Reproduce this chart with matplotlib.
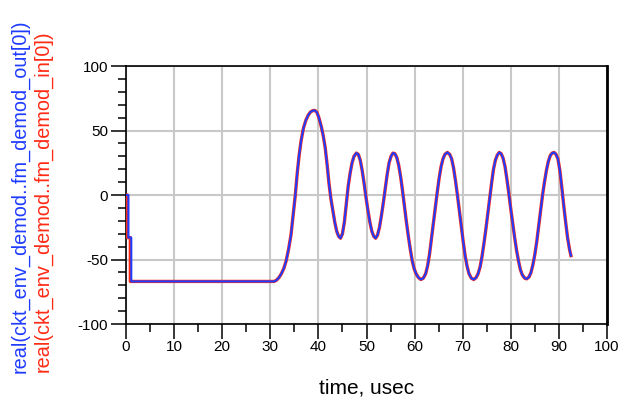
import numpy as np
import matplotlib
matplotlib.use('Agg')
import matplotlib.pyplot as plt
from matplotlib.ticker import MultipleLocator

plt.rcParams['font.family'] = ['Liberation Sans', 'DejaVu Sans']
plt.rcParams['axes.unicode_minus'] = False

# step at the start (output is a touch later than input)
t_out_start = [0.0, 0.5, 0.5, 1.1, 1.1]
t_in_start = [0.0, 0.3, 0.3, 0.9, 0.9]
v_start = [0, 0, -33, -33, -67]

# demodulated waveform, time in usec
t_wave = [30.3, 30.8, 31.3, 31.8, 32.3, 32.8, 33.3, 33.8, 34.3, 34.8, 35.2, 35.6, 36.0, 36.4,
          36.9, 37.4, 37.9, 38.4, 38.9, 39.3, 39.7, 40.1, 40.6, 41.0, 41.4, 41.8, 42.2, 42.6,
          43.0, 43.4, 43.8, 44.2, 44.6, 45.0, 45.4, 45.8, 46.2, 46.6, 47.0, 47.4, 47.9, 48.3,
          48.7, 49.1, 49.5, 49.9, 50.3, 50.7, 51.1, 51.5, 51.9, 52.3, 52.7, 53.1, 53.5, 53.9,
          54.3, 54.7, 55.1, 55.5, 55.9, 56.3, 56.7, 57.1, 57.5, 57.9, 58.3, 58.7, 59.1, 59.5,
          59.9, 60.3, 60.8, 61.3, 61.8, 62.3, 62.7, 63.1, 63.5, 63.9, 64.3, 64.7, 65.1, 65.5,
          65.9, 66.3, 66.8, 67.3, 67.7, 68.1, 68.5, 68.9, 69.3, 69.7, 70.1, 70.5, 70.9, 71.3,
          71.8, 72.3, 72.8, 73.2, 73.6, 74.0, 74.4, 74.8, 75.2, 75.6, 76.0, 76.4, 76.8, 77.2,
          77.6, 78.0, 78.4, 78.8, 79.2, 79.6, 80.0, 80.4, 80.8, 81.2, 81.6, 82.0, 82.4, 82.9,
          83.3, 83.8, 84.2, 84.6, 85.0, 85.4, 85.8, 86.2, 86.6, 87.0, 87.4, 87.8, 88.2, 88.6,
          89.0, 89.4, 89.8, 90.2, 90.6, 91.0, 91.4, 91.8, 92.2, 92.5]
v_wave = [-67, -67, -66, -64, -61, -57, -51, -42, -31, -14, 0, 17, 31, 42,
          52, 58, 62, 64.5, 65.5, 65.5, 64, 60, 53, 46, 37, 24, 9, -3,
          -12, -21, -28, -32, -33.5, -30, -21, -7, 7, 17, 25, 30, 32.5, 31.5,
          27, 19, 9, -2, -12, -21, -28, -32, -33.5, -31, -25, -16, -6, 5,
          16, 25, 30, 32.5, 32, 29, 23, 14, 3, -9, -21, -32, -42, -51,
          -57, -61, -64, -65.5, -64.5, -61, -55, -46, -34, -22, -10, 2, 13, 22,
          28, 31.5, 33, 31.5, 28, 21, 11, 0, -12, -24, -36, -47, -55, -61,
          -64.5, -65.5, -64, -61, -56, -48, -38, -27, -15, -3, 9, 20, 27, 31,
          33, 32, 28.5, 22, 12, 1, -11, -22, -33, -43, -51, -58, -62, -64.5,
          -65, -63.5, -60, -54, -46, -36, -24, -12, 0, 10, 19, 26, 30.5, 32.5,
          33, 31.5, 28, 19, 6, -8, -21, -33, -42, -47]

t_out = t_out_start + t_wave
t_in = t_in_start + t_wave
v_all = v_start + v_wave

blue = '#1f3cff'
red = '#ff2a14'

fig = plt.figure(figsize=(6.26, 4.0), dpi=100)
ax = fig.add_axes([126 / 626, 1 - 324 / 400, (607 - 126) / 626, (324 - 66) / 400])

ax.plot(t_in, v_all, color=red, lw=2.4, solid_joinstyle='round', zorder=3)
ax.plot(t_out, v_all, color=blue, lw=1.5, solid_joinstyle='round', zorder=4)

ax.set_xlim(0, 100)
ax.set_ylim(-100, 100)
ax.xaxis.set_major_locator(MultipleLocator(10))
ax.xaxis.set_minor_locator(MultipleLocator(5))
ax.yaxis.set_major_locator(MultipleLocator(50))
ax.yaxis.set_minor_locator(MultipleLocator(10))

ax.grid(True, which='major', color='#c8c8c8', lw=1.5, zorder=0)
ax.set_axisbelow(True)

ax.tick_params(which='both', direction='out', color='black', width=1.1,
               top=False, right=False, labelsize=11)
ax.tick_params(which='major', length=11)
ax.tick_params(which='minor', length=5.8)
ax.tick_params(axis='x', which='major', pad=0.5)
ax.tick_params(axis='y', which='major', pad=2)

for side in ['left', 'bottom', 'top']:
    ax.spines[side].set_linewidth(1.2)
ax.spines['right'].set_linewidth(2.0)

fig.text(366.5 / 626, 1 - 388 / 400, 'time, usec', ha='center', va='center', fontsize=15)
fig.text(20 / 626, 1 - 196 / 400, 'real(ckt_env_demod..fm_demod_out[0])', color=blue,
         rotation=90, ha='center', va='center', fontsize=14.3)
fig.text(43 / 626, 1 - 201 / 400, 'real(ckt_env_demod..fm_demod_in[0])', color=red,
         rotation=90, ha='center', va='center', fontsize=14.3)

fig.savefig('out.png', dpi=100)
